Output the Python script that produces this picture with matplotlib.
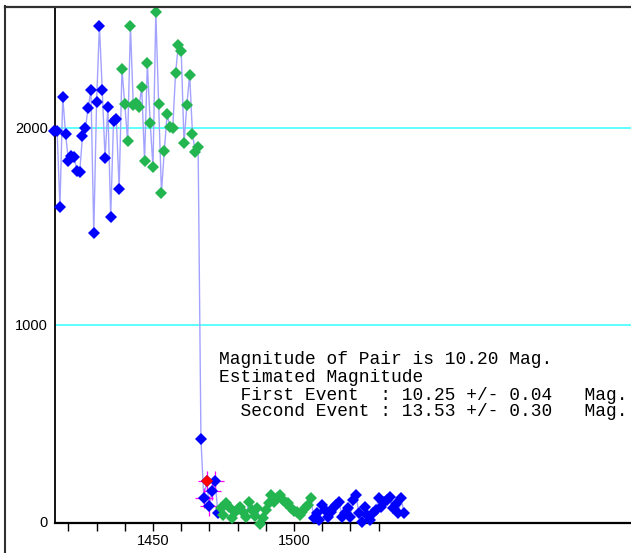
import matplotlib
matplotlib.use("Agg")
import matplotlib.pyplot as plt
from matplotlib.lines import Line2D
import numpy as np

# ---------------- data ----------------
blue1_start = 1415
blue1 = [1986, 1986, 1599, 2156, 1970, 1834, 1858, 1855, 1783, 1775, 1959, 1998,
         2100, 2193, 1466, 2134, 2519, 2193, 1848, 2105, 1550, 2036, 2044, 1690]

green1_start = 1439
green1 = [2298, 2120, 1935, 2519, 2117, 2125, 2105, 2206, 1834, 2328, 2027, 1800,
          2590, 2120, 1672, 1883, 2069, 2007, 2000, 2278, 2423, 2393, 1925, 2115,
          2269, 1970, 1877, 1902]

blue2_start = 1467
blue2 = [421, 123, 208, 81, 159, 208, 47]

green2_start = 1474
green2 = [69, 36, 95, 78, 19, 52, 66, 78, 52, 27, 103, 61, 32, 73, -12, 22, 61,
          95, 137, 100, 123, 137, 112, 95, 95, 69, 56, 49, 36, 52, 70, 86, 120]

blue3_start = 1507
blue3 = [20, 46, 10, 86, 61, 27, 52, 69, 86, 103, 27, 44, 69, 27, 110, 137, 44,
         2, 78, 36, 10, 44, 60, 120, 78, 100, 112, 128, 69, 90, 44, 120, 44]

# points with error crosses (x, y) and the highlighted (red) point
cross_x = [1468, 1469, 1470, 1471, 1472]
cross_y = [123, 208, 81, 159, 208]
cross_xerr = [3.2, 3.2, 3.2, 3.2, 3.2]
cross_yerr = [50, 50, 50, 50, 50]
red_x = [1469]
red_y = [208]

grid_levels = [1000, 2000]
ytick_vals = [0, 1000, 2000]
xtick_major = [1450, 1500]
xtick_minor = [1420, 1430, 1440, 1460, 1470, 1480, 1490, 1510, 1520, 1530]

text_lines = [
    "Magnitude of Pair is 10.20 Mag.",
    "Estimated Magnitude",
    "  First Event  : 10.25 +/- 0.04   Mag.",
    "  Second Event : 13.53 +/- 0.30   Mag.",
]

# ---------------- build ----------------
def xs(start, vals):
    return np.arange(start, start + len(vals))

bx1, gx1, bx2, gx2, bx3 = (xs(blue1_start, blue1), xs(green1_start, green1),
                           xs(blue2_start, blue2), xs(green2_start, green2),
                           xs(blue3_start, blue3))
all_x = np.concatenate([bx1, gx1, bx2, gx2, bx3])
all_y = np.concatenate([blue1, green1, blue2, green2, blue3])

W, H = 631, 553
fig = plt.figure(figsize=(W / 100, H / 100), dpi=100)
fig.patch.set_facecolor("white")

ax_left_px, ax_bottom_px, ax_top_px = 55, 522.5, 7
ax = fig.add_axes([ax_left_px / W, (H - ax_bottom_px) / H,
                   (W - ax_left_px) / W, (ax_bottom_px - ax_top_px) / H])
ax.set_xlim(1415.25, 1619.5)
ax.set_ylim(-3, 2614)

for g in grid_levels:
    ax.axhline(g, color="#33ffff", lw=1.1, zorder=1)

ax.plot(all_x, all_y, color="#a3a3ff", lw=1.0, zorder=2)

mk = dict(marker="D", ms=6.4, ls="none", mew=0, zorder=4, clip_on=False)
ax.plot(bx1, blue1, color="#0000ff", **mk)
ax.plot(gx1, green1, color="#22b550", **mk)
ax.plot(bx2, blue2, color="#0000ff", **mk)
ax.plot(gx2, green2, color="#22b550", **mk)
ax.plot(bx3, blue3, color="#0000ff", **mk)

ax.errorbar(cross_x, cross_y, xerr=cross_xerr, yerr=cross_yerr, fmt="none",
            ecolor="#ff00ff", elinewidth=0.9, capsize=0, zorder=3)
ax.plot(red_x, red_y, color="#ff0000", **{**mk, "zorder": 5})

# axes styling
for s in ["top", "right"]:
    ax.spines[s].set_visible(False)
ax.spines["left"].set_linewidth(1.3)
ax.spines["bottom"].set_linewidth(1.6)
ax.spines["left"].set_color("black")
ax.spines["bottom"].set_color("black")

ax.set_yticks(ytick_vals)
ax.set_yticklabels([str(v) for v in ytick_vals])
ax.tick_params(axis="y", length=0, pad=5, labelsize=10)

ax.set_xticks(xtick_major)
ax.set_xticklabels([str(v) for v in xtick_major])
ax.set_xticks(xtick_minor, minor=True)
ax.tick_params(axis="x", which="both", direction="out", length=5.5, width=1,
               pad=3, labelsize=10)
for lab in ax.get_xticklabels() + ax.get_yticklabels():
    lab.set_fontfamily("Liberation Sans")
    lab.set_fontsize(10.5)

# outer frame
fig.add_artist(Line2D([5 / W, 5 / W], [0, 1 - 6 / H], color="#303030", lw=1.5))
fig.add_artist(Line2D([5 / W, 1], [1 - 6.5 / H, 1 - 6.5 / H], color="#303030", lw=1.6))

# annotation text
line_y = [359, 378, 395, 412]
for t, yp in zip(text_lines, line_y):
    fig.text(219 / W, 1 - yp / H, t, family="Liberation Mono", fontsize=12.9,
             va="center", ha="left", color="black")

fig.savefig("out.png", dpi=100)
